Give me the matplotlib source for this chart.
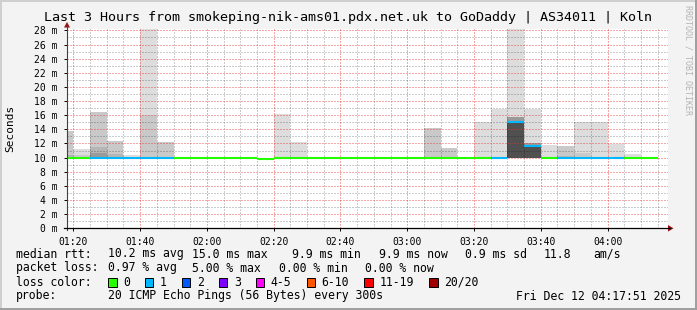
import numpy as np
import matplotlib
matplotlib.use("Agg")
import matplotlib.pyplot as plt
from matplotlib.lines import Line2D
from matplotlib.patches import Polygon, Rectangle

W, H = 697, 310
MONO = "DejaVu Sans Mono"
NA = np.nan

# 5 minute bins (start time of each step)
bin_times = ["01:15", "01:20", "01:25", "01:30", "01:35", "01:40", "01:45", "01:50",
             "01:55", "02:00", "02:05", "02:10", "02:15", "02:20", "02:25", "02:30",
             "02:35", "02:40", "02:45", "02:50", "02:55", "03:00", "03:05", "03:10",
             "03:15", "03:20", "03:25", "03:30", "03:35", "03:40", "03:45", "03:50",
             "03:55", "04:00", "04:05", "04:10"]

# median rtt in ms
median_ms = [10.0, 10.0, 10.0, 10.0, 10.0, 10.0, 10.0, 10.0,
             10.0, 10.0, 10.0, 10.0, 9.85, 10.0, 10.0, 10.0,
             10.0, 10.0, 10.0, 10.0, 10.0, 10.0, 10.0, 10.0,
             10.0, 10.0, 10.0, 15.0, 11.7, 10.0, 10.0, 10.0,
             10.0, 10.0, 10.0, 10.0]

# lost pings out of 20
lost_pings = [0, 0, 1, 1, 1, 1, 1, 0, 0, 0, 0, 0, 0, 0, 0, 0, 0, 0,
              0, 0, 0, 0, 0, 0, 0, 0, 1, 1, 1, 0, 1, 1, 1, 1, 0, 0]

# smoke band tops (ms), lightest to darkest
smoke_light = [NA, 11.2, NA, NA, 10.4, 40.0, NA, NA, NA, NA, NA, NA, NA, 16.2, 12.2, NA,
               NA, NA, NA, NA, NA, NA, NA, NA, NA, 15.0, 16.9, 40.0, 16.9, 11.8, NA, 15.0,
               15.0, 11.9, 10.5, NA]
smoke_mid = [13.7, 10.4, 16.5, 12.4, NA, 16.1, 12.2, NA, NA, NA, NA, NA, NA, NA, NA, NA,
             NA, NA, NA, NA, NA, NA, 14.2, 11.4, NA, NA, NA, NA, NA, NA, 11.65, 10.7,
             NA, NA, NA, NA]
smoke_dark = [10.4, NA, 11.5, 10.5, NA, NA, NA, NA, NA, NA, NA, NA, NA, NA, NA, NA,
              NA, NA, NA, NA, NA, NA, NA, NA, NA, NA, NA, NA, NA, NA, 10.2, NA,
              NA, NA, NA, NA]
smoke_deep = [NA, NA, 10.6, NA, NA, NA, NA, NA, NA, NA, NA, NA, NA, NA, NA, NA,
              NA, NA, NA, NA, NA, NA, NA, NA, NA, NA, NA, 15.7, 12.0, NA, NA, NA,
              NA, NA, NA, NA]
smoke_core = [NA, NA, NA, NA, NA, NA, NA, NA, NA, NA, NA, NA, NA, NA, NA, NA,
              NA, NA, NA, NA, NA, NA, NA, NA, NA, NA, NA, 15.2, 11.8, NA, NA, NA,
              NA, NA, NA, NA]
SMOKE_BASE = 9.9

x_tick_labels = ["01:20", "01:40", "02:00", "02:20", "02:40", "03:00", "03:20", "03:40", "04:00"]
y_ticks = [0, 2, 4, 6, 8, 10, 12, 14, 16, 18, 20, 22, 24, 26, 28]

loss_labels = ["0", "1", "2", "3", "4-5", "6-10", "11-19", "20/20"]
loss_colors = ["#26ff00", "#00b8ff", "#0059ff", "#7e00ff", "#ff00ff", "#ff5500", "#ff0000", "#a10000"]

rtt_items = [("10.2 ms avg", 107.5), ("15.0 ms max", 192.4), ("9.9 ms min", 292),
             ("9.9 ms now", 379), ("0.9 ms sd", 465), ("11.8", 544), ("am/s", 593)]
loss_items = [("0.97 % avg", 107.5), ("5.00 % max", 192.4), ("0.00 % min", 279), ("0.00 % now", 365)]


def to_min(s):
    h, m = s.split(":")
    return int(h) * 60 + int(m)


def fx(x):
    return x / W


def fy(y):
    return 1 - y / H


starts = np.array([to_min(t) for t in bin_times], dtype=float)

fig = plt.figure(figsize=(W / 100, H / 100), dpi=100, facecolor="#f3f3f3")
L, R, T, B = 67, 668, 29, 228.3
ax = fig.add_axes([fx(L), fy(B), (R - L) / W, (B - T) / H])
ax.set_facecolor("white")
ax.set_xlim(78.1, 258.1)
ax.set_ylim(0, 28.2)
for s in ax.spines.values():
    s.set_visible(False)

# smoke
layers = [(smoke_light, "#dddddd"), (smoke_mid, "#c9c9c9"), (smoke_dark, "#b5b5b5"),
          (smoke_deep, "#9a9a9a"), (smoke_core, "#505050")]
for tops, col in layers:
    tops = np.array(tops)
    ok = ~np.isnan(tops)
    ax.bar(starts[ok], tops[ok] - SMOKE_BASE, bottom=SMOKE_BASE, width=5, align="edge",
           color=col, linewidth=0, zorder=1)

# grid on top of smoke, dotted
minor_c = (0, 0, 0, 0.2)
major_c = (0.92, 0.2, 0.2, 0.42)
dash = dict(lw=0.72, dashes=(2, 2), zorder=2, antialiased=False)
for m in range(80, 260, 5):
    ax.axvline(m, color=major_c if m % 20 == 0 else minor_c, **dash)
ax.axvline(258.0, color=major_c, **dash)
for v in range(1, 29):
    ax.axhline(v, color=major_c if v % 2 == 0 else minor_c, **dash)

# median line coloured by loss
for x0, med, lost in zip(starts, median_ms, lost_pings):
    ax.hlines(med, x0, x0 + 5, color=loss_colors[lost], lw=1.5, zorder=3)

ax.set_xticks([to_min(t) for t in x_tick_labels])
ax.set_xticklabels(x_tick_labels)
ax.set_yticks(y_ticks)
ax.set_yticklabels([f"{v} m" for v in y_ticks])
ax.tick_params(axis="both", length=2, width=0.7, direction="out", labelsize=7, colors="black")
ax.tick_params(axis="x", pad=4)
ax.tick_params(axis="y", pad=5)
for lab in ax.get_xticklabels() + ax.get_yticklabels():
    lab.set_family(MONO)

# axes with arrows
fig.add_artist(Line2D([fx(L), fx(L)], [fy(B + 2), fy(24)], color="#404040", lw=0.8))
fig.add_artist(Line2D([fx(L - 3), fx(670)], [fy(B), fy(B)], color="black", lw=0.9))
fig.add_artist(Polygon([(fx(64), fy(27.5)), (fx(70), fy(27.5)), (fx(67), fy(22))],
                       closed=True, color="#9a1010", lw=0))
fig.add_artist(Polygon([(fx(668), fy(225)), (fx(668), fy(231.6)), (fx(673.5), fy(B))],
                       closed=True, color="#9a1010", lw=0))

# texts
fig.text(0.5, fy(18), "Last 3 Hours from smokeping-nik-ams01.pdx.net.uk to GoDaddy | AS34011 | Koln",
         ha="center", va="center", family=MONO, fontsize=9.6)
fig.text(fx(10), fy(128), "Seconds", rotation=90, ha="center", va="center", family=MONO, fontsize=8)
fig.text(fx(688), fy(60), "RRDTOOL / TOBI OETIKER", rotation=-90, ha="center", va="center",
         family=MONO, fontsize=6, color="#b4b4b4")

LF = 8.3
fig.text(fx(16), fy(254), "median rtt:", va="center", family=MONO, fontsize=LF)
for s, x in rtt_items:
    fig.text(fx(x), fy(254), s, va="center", family=MONO, fontsize=LF)
fig.text(fx(16), fy(268), "packet loss:", va="center", family=MONO, fontsize=LF)
for s, x in loss_items:
    fig.text(fx(x), fy(268), s, va="center", family=MONO, fontsize=LF)
fig.text(fx(16), fy(282), "loss color:", va="center", family=MONO, fontsize=LF)
bx = 108
for lab, col in zip(loss_labels, loss_colors):
    fig.add_artist(Rectangle((fx(bx), fy(286.5)), 8.5 / W, 9 / H, facecolor=col,
                             edgecolor="black", lw=0.7))
    fig.text(fx(bx + 15), fy(282), lab, va="center", family=MONO, fontsize=LF)
    bx = bx + 15 + len(lab) * 6.94 + 15
fig.text(fx(16), fy(296), "probe:", va="center", family=MONO, fontsize=LF)
fig.text(fx(107.5), fy(296), "20 ICMP Echo Pings (56 Bytes) every 300s", va="center",
         family=MONO, fontsize=LF)
fig.text(fx(681), fy(296), "Fri Dec 12 04:17:51 2025", ha="right", va="center",
         family=MONO, fontsize=LF)

# 3d frame
fig.add_artist(Line2D([0, 1], [fy(1), fy(1)], color="#cfcfcf", lw=1.4))
fig.add_artist(Line2D([fx(1), fx(1)], [0, 1], color="#cfcfcf", lw=1.4))
fig.add_artist(Line2D([0, 1], [fy(309), fy(309)], color="#9e9e9e", lw=1.4))
fig.add_artist(Line2D([fx(696), fx(696)], [0, 1], color="#9e9e9e", lw=1.4))

fig.savefig("out.png", dpi=100, facecolor=fig.get_facecolor())
